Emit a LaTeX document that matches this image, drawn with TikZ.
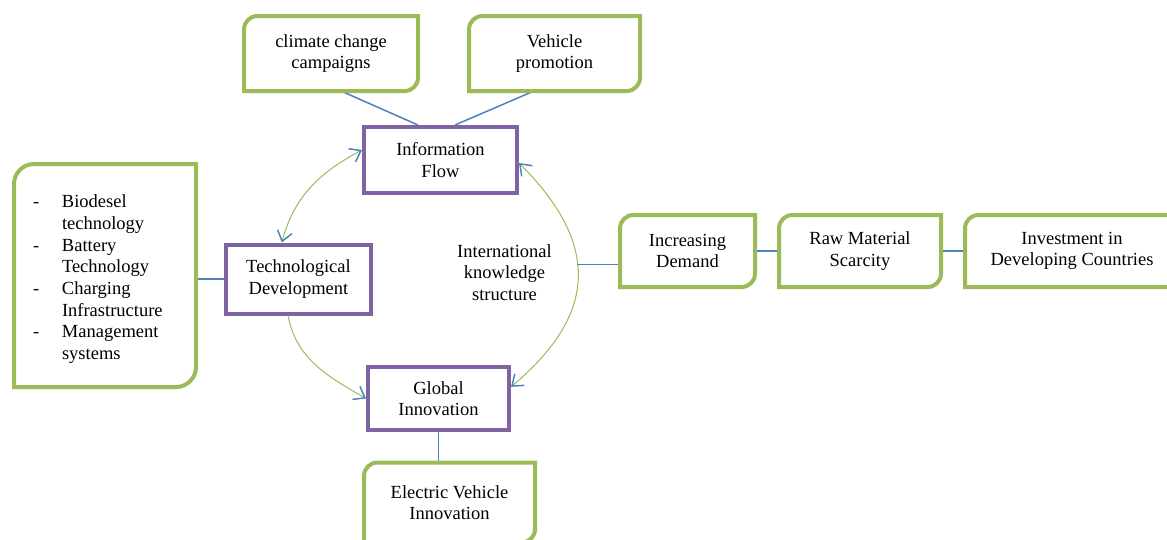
\documentclass[tikz,border=0pt]{standalone}
\usepackage{fontspec}
\setmainfont{Liberation Serif}
\usetikzlibrary{arrows.meta}
\definecolor{boxgreen}{RGB}{155,187,89}
\definecolor{boxpurple}{RGB}{128,100,162}
\definecolor{linkblue}{RGB}{79,129,189}
\tikzset{every node/.style={font=\fontsize{11.1}{13}\selectfont, align=center, inner sep=0pt}}
\tikzset{gpad/.style args={#1 and #2}{minimum width=#1, minimum height=#2, outer sep=0pt}}
\tikzset{ppad/.style args={#1 and #2}{draw=boxpurple, line width=2.4pt, minimum width=#1, minimum height=#2}}
\tikzset{lnk/.style={draw=linkblue, line width=0.9pt}}
\tikzset{cyc/.style={draw=boxgreen, line width=0.6pt}}
\tikzset{barb/.tip={Straight Barb[length=6pt, width=9pt, line width=0.9pt, color=linkblue]}}
\newcommand\gframe[2][8pt]{
	\draw[boxgreen, line width=2.4pt] ([yshift=-#1]#2.north west)
		arc[start angle=180, end angle=90, radius=#1] -- (#2.north east)
		-- ([yshift=#1]#2.south east)
		arc[start angle=0, end angle=-90, radius=#1] -- (#2.south west) -- cycle;
	}

\begin{document}
\begin{tikzpicture}[x=0.6pt, y=-0.6pt]
	\useasboundingbox (0,0) rectangle (1167,539);
	\clip (0,0) rectangle (1167,539);

	\node[gpad={104.4pt and 45pt}] (CC) at (331,53.5) {climate change\\campaigns};
	\node[gpad={102.6pt and 45pt}] (VP) at (554.5,53.5) {Vehicle\\promotion};
	\node[ppad={91.8pt and 39.6pt}] (IF) at (440.5,160) {Information\\Flow};
	\node[ppad={87pt and 41.4pt}] (TD) at (298.5,279) {Technological\\Development};
	\node[ppad={84.6pt and 37.8pt}] (GI) at (438.5,398.5) {Global\\Innovation};
	\node[gpad={102.6pt and 48pt}] (EV) at (449.5,502.5) {Electric Vehicle\\Innovation};
	\node[gpad={109.2pt and 133.8pt}, align=left, text width=86.4pt, inner xsep=11.4pt] (LS) at (105,275.5)
		{\rule{0pt}{12pt}\makebox[17.4pt][l]{-}Biodesel\\\hspace*{17.4pt}technology\\
		 \makebox[17.4pt][l]{-}Battery\\\hspace*{17.4pt}Technology\\
		 \makebox[17.4pt][l]{-}Charging\\\hspace*{17.4pt}Infrastructure\\
		 \makebox[17.4pt][l]{-}Management\\\hspace*{17.4pt}systems};
	\node (KS) at (504.5,272.5) {International\\knowledge\\structure};
	\node[gpad={81pt and 43.2pt}] (ID) at (687.5,251) {Increasing\\Demand};
	\node[gpad={97.2pt and 43.2pt}] (RMS) at (860,251) {Raw Material\\Scarcity};
	\node[gpad={128.4pt and 43.2pt}] (IV) at (1072,251) {Investment in\\Developing Countries};

	% knowledge cycle
	\draw[cyc, barb-barb] ([xshift=-10pt]TD.north) to[out=75, in=208] ([yshift=6pt]IF.west);
	\draw[cyc, -barb] ([xshift=-6.3pt]TD.south) to[out=-79, in=150] (GI.west);
	\draw[cyc, barb-barb] ([yshift=-1.8pt]IF.east) to[out=-45, in=40, looseness=1.3]
		node[coordinate, pos=0.44] (kn) {} ([yshift=7pt]GI.east);

	\draw[lnk] ([xshift=6pt]CC.south) -- ([xshift=-13.5pt]IF.north);
	\draw[lnk] ([xshift=-12.3pt]VP.south) -- ([xshift=8.7pt]IF.north);
	\draw[lnk] (TD.west) -- (TD.west -| LS.east);
	\draw[lnk] (GI.south) -- (GI.south |- EV.north);
	\draw[lnk] (kn) -- (kn -| ID.west);
	\draw[lnk] (ID.east) -- (RMS.west);
	\draw[lnk] (RMS.east) -- (IV.west);

	\gframe{CC}
	\gframe{VP}
	\gframe[12pt]{LS}
	\gframe{EV}
	\gframe{ID}
	\gframe{RMS}
	\gframe{IV}
\end{tikzpicture}
\end{document}
